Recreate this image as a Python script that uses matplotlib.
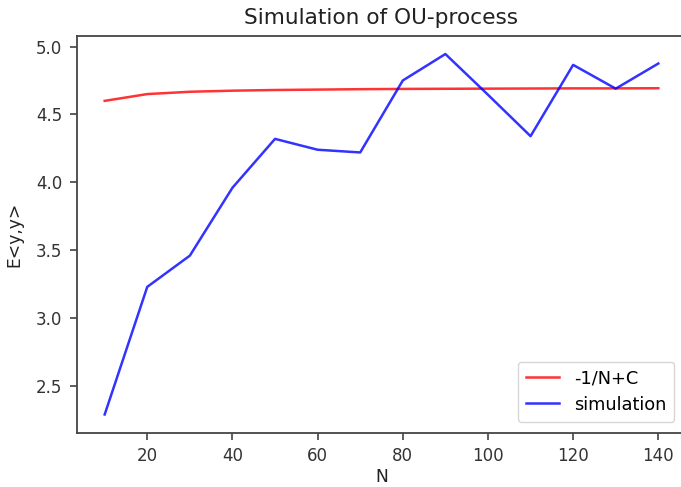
import matplotlib
matplotlib.use("Agg")
import matplotlib.pyplot as plt

N = [10, 20, 30, 40, 50, 60, 70, 80, 90, 100, 110, 120, 130, 140]
theory = [4.600, 4.650, 4.667, 4.675, 4.680, 4.683, 4.686, 4.688, 4.689, 4.690, 4.691, 4.692, 4.692, 4.693]
simulation = [2.29, 3.23, 3.46, 3.96, 4.32, 4.24, 4.22, 4.75, 4.945, 4.645, 4.34, 4.865, 4.69, 4.875]

plt.rcParams['font.family'] = ['DejaVu Sans']
fig = plt.figure(figsize=(6.81, 4.87), dpi=100)
ax = fig.add_axes([77/681, 1-432.5/487, (686-77)/681, (432.5-36)/487])

lw = 1.8
ax.plot(N, theory, color='red', lw=lw, alpha=0.8, label='-1/N+C')
ax.plot(N, simulation, color='blue', lw=lw, alpha=0.8, label='simulation')
ax.set_xlim(3.5, 146.5)

ax.set_title('Simulation of OU-process', fontsize=15.6, color='#222222', pad=8.5)
ax.set_xlabel('N', fontsize=12.3, color='#222222', labelpad=2)
ax.set_ylabel('E<y,y>', fontsize=12.3, color='#222222', labelpad=9)
ax.tick_params(labelsize=12, colors='#333333', length=5, width=1.1, pad=5.5)
for s in ax.spines.values():
    s.set_color('#444444')
    s.set_linewidth(1.3)
ax.spines['right'].set_visible(False)
ax.set_xticks([20, 40, 60, 80, 100, 120, 140])
ax.set_yticks([2.5, 3.0, 3.5, 4.0, 4.5, 5.0])
ax.legend(loc='lower right', fontsize=12.8, bbox_to_anchor=(0.995, 0.005),
          handlelength=1.9, borderpad=0.45, labelspacing=0.45)

fig.savefig('out.png', dpi=100)
